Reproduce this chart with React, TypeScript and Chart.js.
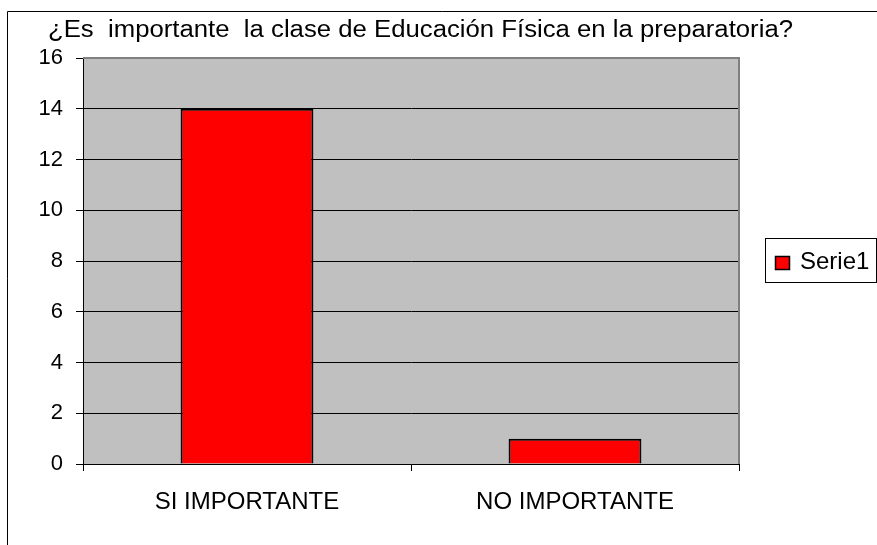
import React, { useEffect, useRef } from "react";
import { Chart, registerables } from "chart.js";

Chart.register(...registerables);

const categories = ["SI IMPORTANTE", "NO IMPORTANTE"];
const seriesName = "Serie1";
const seriesValues = [14, 1];
const titleText = "¿Es  importante  la clase de Educación Física en la preparatoria?";
const yMin = 0;
const yMax = 16;
const yStep = 2;

const FONT = "'Liberation Sans', Arial, sans-serif";

const decorPlugin = {
  id: "decor",
  beforeDraw(chart: any) {
    const { ctx, chartArea } = chart;
    ctx.save();
    ctx.fillStyle = "#ffffff";
    ctx.fillRect(0, 0, chart.width, chart.height);
    // outer frame
    ctx.strokeStyle = "#000000";
    ctx.lineWidth = 1;
    ctx.beginPath();
    ctx.moveTo(7.5, chart.height);
    ctx.lineTo(7.5, 11.5);
    ctx.lineTo(chart.width, 11.5);
    ctx.stroke();
    // plot background
    ctx.fillStyle = "#C0C0C0";
    ctx.fillRect(chartArea.left, chartArea.top, chartArea.right - chartArea.left, chartArea.bottom - chartArea.top);
    ctx.restore();
  },
  afterDraw(chart: any) {
    const { ctx, chartArea } = chart;
    ctx.save();
    // plot border (gray) top & right
    ctx.strokeStyle = "#808080";
    ctx.lineWidth = 2;
    ctx.beginPath();
    ctx.moveTo(chartArea.left, chartArea.top);
    ctx.lineTo(chartArea.right, chartArea.top);
    ctx.lineTo(chartArea.right, chartArea.bottom);
    ctx.stroke();
    // title (slightly wide lettering as in the reference)
    ctx.fillStyle = "#000000";
    ctx.font = `23px ${FONT}`;
    ctx.textBaseline = "middle";
    ctx.textAlign = "left";
    const w = ctx.measureText(titleText).width;
    const sx = 745 / w;
    ctx.save();
    ctx.translate(48, 31);
    ctx.scale(sx, 1);
    ctx.fillText(titleText, 0, 0);
    ctx.restore();
    // legend
    const ds = chart.data.datasets[0];
    ctx.strokeStyle = "#000000";
    ctx.lineWidth = 1;
    ctx.strokeRect(765.5, 238.5, 111, 44);
    ctx.fillStyle = ds.backgroundColor;
    ctx.fillRect(775, 256, 14, 13);
    ctx.lineWidth = 1.5;
    ctx.strokeRect(775.5, 256.5, 14, 13);
    ctx.fillStyle = "#000000";
    ctx.font = `24px ${FONT}`;
    ctx.fillText(ds.label, 800, 262);
    ctx.restore();
  },
};

export default function App() {
  const ref = useRef<HTMLCanvasElement | null>(null);
  useEffect(() => {
    document.body.style.margin = "0";
    const canvas = ref.current!;
    const chart = new Chart(canvas, {
      type: "bar",
      data: {
        labels: categories,
        datasets: [
          {
            label: seriesName,
            data: seriesValues,
            backgroundColor: "#FF0000",
            borderColor: "#000000",
            borderWidth: 2,
            barPercentage: 0.405,
            categoryPercentage: 1,
          },
        ],
      },
      options: {
        animation: false,
        responsive: false,
        devicePixelRatio: 1,
        layout: { padding: { left: 0, top: 58, right: 138, bottom: 0 } },
        plugins: {
          legend: { display: false },
          title: { display: false },
          tooltip: { enabled: false },
        },
        scales: {
          x: {
            offset: true,
            afterFit: (s: any) => {
              s.height = 81;
            },
            grid: {
              offset: true,
              drawOnChartArea: false,
              drawTicks: true,
              tickLength: 7,
              color: "#000000",
            },
            border: { color: "#000000", width: 1 },
            ticks: {
              color: "#000000",
              font: { family: FONT, size: 24 },
              padding: 17,
              maxRotation: 0,
            },
          },
          y: {
            min: yMin,
            max: yMax,
            afterFit: (s: any) => {
              s.width = 83;
            },
            grid: {
              color: (c: any) => (c.tick && c.tick.value === yMax ? "rgba(0,0,0,0)" : "#000000"),
              tickColor: "#000000",
              tickLength: 7,
              drawTicks: true,
            },
            border: { color: "#000000", width: 1 },
            ticks: {
              stepSize: yStep,
              color: "#000000",
              font: { family: FONT, size: 22 },
              padding: 13,
            },
          },
        },
      },
      plugins: [decorPlugin],
    });
    return () => chart.destroy();
  }, []);
  return (
    <div style={{ position: "absolute", left: 0, top: 0, width: 877, height: 545 }}>
      <canvas ref={ref} width={877} height={545} style={{ display: "block" }} />
    </div>
  );
}
